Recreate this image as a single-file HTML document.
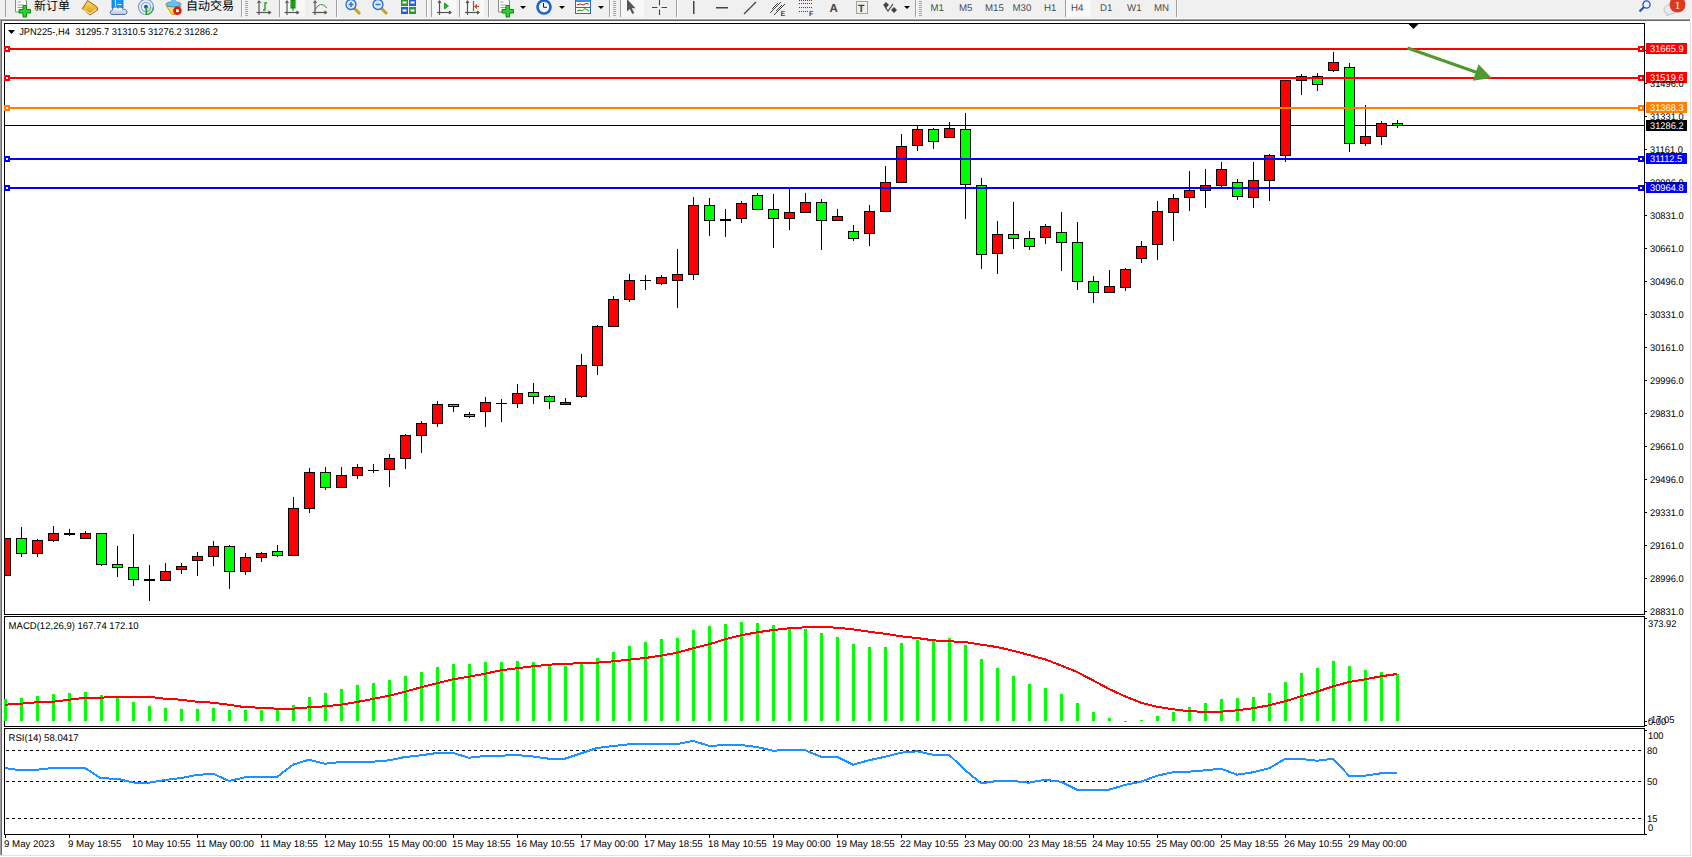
<!DOCTYPE html>
<html><head><meta charset="utf-8"><title>JPN225 H4</title>
<style>
html,body{margin:0;padding:0;background:#fff;overflow:hidden;width:1692px;height:857px}
svg{display:block}
text{white-space:pre;text-rendering:geometricPrecision}
</style></head><body>
<svg width="1692" height="857" viewBox="0 0 1692 857">
<g shape-rendering="crispEdges">
<rect x="0" y="0" width="1692" height="857" fill="#ffffff"/>
<rect x="0" y="0" width="1692" height="18" fill="#f0f0f0"/>
<rect x="0" y="18" width="1690" height="1" fill="#f7f7f7"/>
<rect x="0" y="19" width="1690" height="1" fill="#a0a0a0"/>
<rect x="0" y="20" width="1690" height="1" fill="#696969"/>
<rect x="0" y="19" width="1" height="836" fill="#a0a0a0"/>
<rect x="1" y="20" width="1" height="835" fill="#696969"/>
<rect x="1690" y="21" width="1" height="835" fill="#e3e3e3"/>
<rect x="0" y="855" width="1691" height="1" fill="#e3e3e3"/>
<rect x="4" y="23" width="1641" height="1" fill="#000"/>
<rect x="4" y="614" width="1641" height="1" fill="#000"/>
<rect x="4" y="23" width="1" height="592" fill="#000"/>
<rect x="1644" y="23" width="1" height="592" fill="#000"/>
<rect x="4" y="616" width="1641" height="1" fill="#000"/>
<rect x="4" y="726" width="1641" height="1" fill="#000"/>
<rect x="4" y="616" width="1" height="111" fill="#000"/>
<rect x="1644" y="616" width="1" height="111" fill="#000"/>
<rect x="4" y="728" width="1641" height="1" fill="#000"/>
<rect x="4" y="834" width="1641" height="1" fill="#000"/>
<rect x="4" y="728" width="1" height="107" fill="#000"/>
<rect x="1644" y="728" width="1" height="107" fill="#000"/>
<rect x="5" y="125" width="1639" height="1" fill="#000"/>
<rect x="5" y="538" width="1" height="38" fill="#000"/>
<rect x="21" y="527" width="1" height="30" fill="#000"/>
<rect x="37" y="539" width="1" height="18" fill="#000"/>
<rect x="53" y="526" width="1" height="16" fill="#000"/>
<rect x="69" y="529" width="1" height="7" fill="#000"/>
<rect x="85" y="531" width="1" height="8" fill="#000"/>
<rect x="101" y="533" width="1" height="33" fill="#000"/>
<rect x="117" y="546" width="1" height="31" fill="#000"/>
<rect x="133" y="534" width="1" height="52" fill="#000"/>
<rect x="149" y="565" width="1" height="36" fill="#000"/>
<rect x="165" y="563" width="1" height="18" fill="#000"/>
<rect x="181" y="563" width="1" height="11" fill="#000"/>
<rect x="197" y="552" width="1" height="24" fill="#000"/>
<rect x="213" y="541" width="1" height="25" fill="#000"/>
<rect x="229" y="545" width="1" height="44" fill="#000"/>
<rect x="245" y="553" width="1" height="22" fill="#000"/>
<rect x="261" y="552" width="1" height="10" fill="#000"/>
<rect x="277" y="545" width="1" height="12" fill="#000"/>
<rect x="293" y="497" width="1" height="59" fill="#000"/>
<rect x="309" y="468" width="1" height="45" fill="#000"/>
<rect x="325" y="467" width="1" height="23" fill="#000"/>
<rect x="341" y="467" width="1" height="21" fill="#000"/>
<rect x="357" y="464" width="1" height="15" fill="#000"/>
<rect x="373" y="464" width="1" height="9" fill="#000"/>
<rect x="389" y="454" width="1" height="33" fill="#000"/>
<rect x="405" y="434" width="1" height="35" fill="#000"/>
<rect x="421" y="421" width="1" height="32" fill="#000"/>
<rect x="437" y="401" width="1" height="26" fill="#000"/>
<rect x="453" y="404" width="1" height="8" fill="#000"/>
<rect x="469" y="412" width="1" height="6" fill="#000"/>
<rect x="485" y="397" width="1" height="30" fill="#000"/>
<rect x="501" y="399" width="1" height="23" fill="#000"/>
<rect x="517" y="384" width="1" height="24" fill="#000"/>
<rect x="533" y="383" width="1" height="21" fill="#000"/>
<rect x="549" y="395" width="1" height="14" fill="#000"/>
<rect x="565" y="398" width="1" height="7" fill="#000"/>
<rect x="581" y="354" width="1" height="44" fill="#000"/>
<rect x="597" y="325" width="1" height="50" fill="#000"/>
<rect x="613" y="296" width="1" height="31" fill="#000"/>
<rect x="629" y="274" width="1" height="28" fill="#000"/>
<rect x="645" y="275" width="1" height="15" fill="#000"/>
<rect x="661" y="275" width="1" height="10" fill="#000"/>
<rect x="677" y="249" width="1" height="59" fill="#000"/>
<rect x="693" y="197" width="1" height="83" fill="#000"/>
<rect x="709" y="198" width="1" height="38" fill="#000"/>
<rect x="725" y="209" width="1" height="28" fill="#000"/>
<rect x="741" y="201" width="1" height="22" fill="#000"/>
<rect x="757" y="193" width="1" height="17" fill="#000"/>
<rect x="773" y="194" width="1" height="54" fill="#000"/>
<rect x="789" y="188" width="1" height="42" fill="#000"/>
<rect x="805" y="193" width="1" height="20" fill="#000"/>
<rect x="821" y="199" width="1" height="51" fill="#000"/>
<rect x="837" y="209" width="1" height="12" fill="#000"/>
<rect x="853" y="225" width="1" height="16" fill="#000"/>
<rect x="869" y="205" width="1" height="41" fill="#000"/>
<rect x="885" y="166" width="1" height="46" fill="#000"/>
<rect x="901" y="134" width="1" height="49" fill="#000"/>
<rect x="917" y="125" width="1" height="26" fill="#000"/>
<rect x="933" y="128" width="1" height="21" fill="#000"/>
<rect x="949" y="122" width="1" height="16" fill="#000"/>
<rect x="965" y="113" width="1" height="106" fill="#000"/>
<rect x="981" y="178" width="1" height="91" fill="#000"/>
<rect x="997" y="221" width="1" height="53" fill="#000"/>
<rect x="1013" y="202" width="1" height="47" fill="#000"/>
<rect x="1029" y="231" width="1" height="19" fill="#000"/>
<rect x="1045" y="224" width="1" height="20" fill="#000"/>
<rect x="1061" y="212" width="1" height="59" fill="#000"/>
<rect x="1077" y="222" width="1" height="68" fill="#000"/>
<rect x="1093" y="276" width="1" height="27" fill="#000"/>
<rect x="1109" y="270" width="1" height="23" fill="#000"/>
<rect x="1125" y="268" width="1" height="23" fill="#000"/>
<rect x="1141" y="241" width="1" height="22" fill="#000"/>
<rect x="1157" y="201" width="1" height="59" fill="#000"/>
<rect x="1173" y="194" width="1" height="47" fill="#000"/>
<rect x="1189" y="171" width="1" height="40" fill="#000"/>
<rect x="1205" y="169" width="1" height="39" fill="#000"/>
<rect x="1221" y="162" width="1" height="25" fill="#000"/>
<rect x="1237" y="179" width="1" height="21" fill="#000"/>
<rect x="1253" y="162" width="1" height="46" fill="#000"/>
<rect x="1269" y="154" width="1" height="47" fill="#000"/>
<rect x="1285" y="80" width="1" height="82" fill="#000"/>
<rect x="1301" y="74" width="1" height="21" fill="#000"/>
<rect x="1317" y="73" width="1" height="18" fill="#000"/>
<rect x="1333" y="52" width="1" height="20" fill="#000"/>
<rect x="1349" y="63" width="1" height="89" fill="#000"/>
<rect x="1365" y="105" width="1" height="41" fill="#000"/>
<rect x="1381" y="121" width="1" height="24" fill="#000"/>
<rect x="1397" y="120" width="1" height="8" fill="#000"/>
<rect x="5" y="538" width="6" height="38" fill="#000"/>
<rect x="5" y="539" width="5" height="36" fill="#ff0000"/>
<rect x="16" y="538" width="11" height="16" fill="#000"/>
<rect x="17" y="539" width="9" height="14" fill="#00ff00"/>
<rect x="32" y="540" width="11" height="14" fill="#000"/>
<rect x="33" y="541" width="9" height="12" fill="#ff0000"/>
<rect x="48" y="533" width="11" height="8" fill="#000"/>
<rect x="49" y="534" width="9" height="6" fill="#ff0000"/>
<rect x="64" y="533" width="11" height="2" fill="#000"/>
<rect x="80" y="533" width="11" height="6" fill="#000"/>
<rect x="81" y="534" width="9" height="4" fill="#ff0000"/>
<rect x="96" y="533" width="11" height="32" fill="#000"/>
<rect x="97" y="534" width="9" height="30" fill="#00ff00"/>
<rect x="112" y="564" width="11" height="4" fill="#000"/>
<rect x="113" y="565" width="9" height="2" fill="#00ff00"/>
<rect x="128" y="567" width="11" height="13" fill="#000"/>
<rect x="129" y="568" width="9" height="11" fill="#00ff00"/>
<rect x="144" y="579" width="11" height="2" fill="#000"/>
<rect x="160" y="571" width="11" height="10" fill="#000"/>
<rect x="161" y="572" width="9" height="8" fill="#ff0000"/>
<rect x="176" y="566" width="11" height="4" fill="#000"/>
<rect x="177" y="567" width="9" height="2" fill="#ff0000"/>
<rect x="192" y="556" width="11" height="5" fill="#000"/>
<rect x="193" y="557" width="9" height="3" fill="#ff0000"/>
<rect x="208" y="546" width="11" height="11" fill="#000"/>
<rect x="209" y="547" width="9" height="9" fill="#ff0000"/>
<rect x="224" y="546" width="11" height="26" fill="#000"/>
<rect x="225" y="547" width="9" height="24" fill="#00ff00"/>
<rect x="240" y="557" width="11" height="15" fill="#000"/>
<rect x="241" y="558" width="9" height="13" fill="#ff0000"/>
<rect x="256" y="553" width="11" height="5" fill="#000"/>
<rect x="257" y="554" width="9" height="3" fill="#ff0000"/>
<rect x="272" y="551" width="11" height="5" fill="#000"/>
<rect x="273" y="552" width="9" height="3" fill="#00ff00"/>
<rect x="288" y="508" width="11" height="48" fill="#000"/>
<rect x="289" y="509" width="9" height="46" fill="#ff0000"/>
<rect x="304" y="472" width="11" height="37" fill="#000"/>
<rect x="305" y="473" width="9" height="35" fill="#ff0000"/>
<rect x="320" y="472" width="11" height="16" fill="#000"/>
<rect x="321" y="473" width="9" height="14" fill="#00ff00"/>
<rect x="336" y="475" width="11" height="13" fill="#000"/>
<rect x="337" y="476" width="9" height="11" fill="#ff0000"/>
<rect x="352" y="467" width="11" height="9" fill="#000"/>
<rect x="353" y="468" width="9" height="7" fill="#ff0000"/>
<rect x="368" y="470" width="11" height="1" fill="#000"/>
<rect x="384" y="458" width="11" height="12" fill="#000"/>
<rect x="385" y="459" width="9" height="10" fill="#ff0000"/>
<rect x="400" y="435" width="11" height="24" fill="#000"/>
<rect x="401" y="436" width="9" height="22" fill="#ff0000"/>
<rect x="416" y="423" width="11" height="13" fill="#000"/>
<rect x="417" y="424" width="9" height="11" fill="#ff0000"/>
<rect x="432" y="404" width="11" height="20" fill="#000"/>
<rect x="433" y="405" width="9" height="18" fill="#ff0000"/>
<rect x="448" y="404" width="11" height="3" fill="#000"/>
<rect x="449" y="405" width="9" height="1" fill="#00ff00"/>
<rect x="464" y="414" width="11" height="3" fill="#000"/>
<rect x="465" y="415" width="9" height="1" fill="#00ff00"/>
<rect x="480" y="402" width="11" height="10" fill="#000"/>
<rect x="481" y="403" width="9" height="8" fill="#ff0000"/>
<rect x="496" y="403" width="11" height="1" fill="#000"/>
<rect x="512" y="393" width="11" height="11" fill="#000"/>
<rect x="513" y="394" width="9" height="9" fill="#ff0000"/>
<rect x="528" y="392" width="11" height="5" fill="#000"/>
<rect x="529" y="393" width="9" height="3" fill="#00ff00"/>
<rect x="544" y="396" width="11" height="6" fill="#000"/>
<rect x="545" y="397" width="9" height="4" fill="#00ff00"/>
<rect x="560" y="402" width="11" height="3" fill="#000"/>
<rect x="561" y="403" width="9" height="1" fill="#ff0000"/>
<rect x="576" y="365" width="11" height="32" fill="#000"/>
<rect x="577" y="366" width="9" height="30" fill="#ff0000"/>
<rect x="592" y="326" width="11" height="40" fill="#000"/>
<rect x="593" y="327" width="9" height="38" fill="#ff0000"/>
<rect x="608" y="299" width="11" height="28" fill="#000"/>
<rect x="609" y="300" width="9" height="26" fill="#ff0000"/>
<rect x="624" y="280" width="11" height="20" fill="#000"/>
<rect x="625" y="281" width="9" height="18" fill="#ff0000"/>
<rect x="640" y="280" width="11" height="1" fill="#000"/>
<rect x="656" y="277" width="11" height="7" fill="#000"/>
<rect x="657" y="278" width="9" height="5" fill="#ff0000"/>
<rect x="672" y="274" width="11" height="7" fill="#000"/>
<rect x="673" y="275" width="9" height="5" fill="#ff0000"/>
<rect x="688" y="205" width="11" height="70" fill="#000"/>
<rect x="689" y="206" width="9" height="68" fill="#ff0000"/>
<rect x="704" y="205" width="11" height="16" fill="#000"/>
<rect x="705" y="206" width="9" height="14" fill="#00ff00"/>
<rect x="720" y="219" width="11" height="2" fill="#000"/>
<rect x="736" y="203" width="11" height="16" fill="#000"/>
<rect x="737" y="204" width="9" height="14" fill="#ff0000"/>
<rect x="752" y="195" width="11" height="15" fill="#000"/>
<rect x="753" y="196" width="9" height="13" fill="#00ff00"/>
<rect x="768" y="209" width="11" height="10" fill="#000"/>
<rect x="769" y="210" width="9" height="8" fill="#00ff00"/>
<rect x="784" y="212" width="11" height="7" fill="#000"/>
<rect x="785" y="213" width="9" height="5" fill="#ff0000"/>
<rect x="800" y="202" width="11" height="11" fill="#000"/>
<rect x="801" y="203" width="9" height="9" fill="#ff0000"/>
<rect x="816" y="202" width="11" height="19" fill="#000"/>
<rect x="817" y="203" width="9" height="17" fill="#00ff00"/>
<rect x="832" y="216" width="11" height="5" fill="#000"/>
<rect x="833" y="217" width="9" height="3" fill="#ff0000"/>
<rect x="848" y="231" width="11" height="8" fill="#000"/>
<rect x="849" y="232" width="9" height="6" fill="#00ff00"/>
<rect x="864" y="211" width="11" height="23" fill="#000"/>
<rect x="865" y="212" width="9" height="21" fill="#ff0000"/>
<rect x="880" y="182" width="11" height="30" fill="#000"/>
<rect x="881" y="183" width="9" height="28" fill="#ff0000"/>
<rect x="896" y="146" width="11" height="37" fill="#000"/>
<rect x="897" y="147" width="9" height="35" fill="#ff0000"/>
<rect x="912" y="129" width="11" height="17" fill="#000"/>
<rect x="913" y="130" width="9" height="15" fill="#ff0000"/>
<rect x="928" y="129" width="11" height="13" fill="#000"/>
<rect x="929" y="130" width="9" height="11" fill="#00ff00"/>
<rect x="944" y="128" width="11" height="10" fill="#000"/>
<rect x="945" y="129" width="9" height="8" fill="#ff0000"/>
<rect x="960" y="129" width="11" height="56" fill="#000"/>
<rect x="961" y="130" width="9" height="54" fill="#00ff00"/>
<rect x="976" y="185" width="11" height="70" fill="#000"/>
<rect x="977" y="186" width="9" height="68" fill="#00ff00"/>
<rect x="992" y="234" width="11" height="20" fill="#000"/>
<rect x="993" y="235" width="9" height="18" fill="#ff0000"/>
<rect x="1008" y="234" width="11" height="5" fill="#000"/>
<rect x="1009" y="235" width="9" height="3" fill="#00ff00"/>
<rect x="1024" y="238" width="11" height="9" fill="#000"/>
<rect x="1025" y="239" width="9" height="7" fill="#00ff00"/>
<rect x="1040" y="226" width="11" height="12" fill="#000"/>
<rect x="1041" y="227" width="9" height="10" fill="#ff0000"/>
<rect x="1056" y="232" width="11" height="11" fill="#000"/>
<rect x="1057" y="233" width="9" height="9" fill="#00ff00"/>
<rect x="1072" y="242" width="11" height="40" fill="#000"/>
<rect x="1073" y="243" width="9" height="38" fill="#00ff00"/>
<rect x="1088" y="281" width="11" height="12" fill="#000"/>
<rect x="1089" y="282" width="9" height="10" fill="#00ff00"/>
<rect x="1104" y="286" width="11" height="7" fill="#000"/>
<rect x="1105" y="287" width="9" height="5" fill="#ff0000"/>
<rect x="1120" y="269" width="11" height="19" fill="#000"/>
<rect x="1121" y="270" width="9" height="17" fill="#ff0000"/>
<rect x="1136" y="246" width="11" height="13" fill="#000"/>
<rect x="1137" y="247" width="9" height="11" fill="#ff0000"/>
<rect x="1152" y="211" width="11" height="34" fill="#000"/>
<rect x="1153" y="212" width="9" height="32" fill="#ff0000"/>
<rect x="1168" y="198" width="11" height="15" fill="#000"/>
<rect x="1169" y="199" width="9" height="13" fill="#ff0000"/>
<rect x="1184" y="190" width="11" height="8" fill="#000"/>
<rect x="1185" y="191" width="9" height="6" fill="#ff0000"/>
<rect x="1200" y="185" width="11" height="6" fill="#000"/>
<rect x="1201" y="186" width="9" height="4" fill="#ff0000"/>
<rect x="1216" y="169" width="11" height="17" fill="#000"/>
<rect x="1217" y="170" width="9" height="15" fill="#ff0000"/>
<rect x="1232" y="182" width="11" height="15" fill="#000"/>
<rect x="1233" y="183" width="9" height="13" fill="#00ff00"/>
<rect x="1248" y="180" width="11" height="18" fill="#000"/>
<rect x="1249" y="181" width="9" height="16" fill="#ff0000"/>
<rect x="1264" y="155" width="11" height="26" fill="#000"/>
<rect x="1265" y="156" width="9" height="24" fill="#ff0000"/>
<rect x="1280" y="80" width="11" height="76" fill="#000"/>
<rect x="1281" y="81" width="9" height="74" fill="#ff0000"/>
<rect x="1296" y="76" width="11" height="5" fill="#000"/>
<rect x="1297" y="77" width="9" height="3" fill="#ff0000"/>
<rect x="1312" y="76" width="11" height="9" fill="#000"/>
<rect x="1313" y="77" width="9" height="7" fill="#00ff00"/>
<rect x="1328" y="62" width="11" height="9" fill="#000"/>
<rect x="1329" y="63" width="9" height="7" fill="#ff0000"/>
<rect x="1344" y="67" width="11" height="77" fill="#000"/>
<rect x="1345" y="68" width="9" height="75" fill="#00ff00"/>
<rect x="1360" y="136" width="11" height="8" fill="#000"/>
<rect x="1361" y="137" width="9" height="6" fill="#ff0000"/>
<rect x="1376" y="123" width="11" height="14" fill="#000"/>
<rect x="1377" y="124" width="9" height="12" fill="#ff0000"/>
<rect x="1392" y="123" width="11" height="3" fill="#000"/>
<rect x="1393" y="124" width="9" height="1" fill="#00ff00"/>
<rect x="5" y="48" width="1639" height="2" fill="#ff0000"/>
<rect x="4" y="46" width="6" height="6" fill="#ff0000"/>
<rect x="6" y="48" width="2" height="2" fill="#fff"/>
<rect x="1638" y="46" width="6" height="6" fill="#ff0000"/>
<rect x="1640" y="48" width="2" height="2" fill="#fff"/>
<rect x="5" y="77" width="1639" height="2" fill="#ff0000"/>
<rect x="4" y="75" width="6" height="6" fill="#ff0000"/>
<rect x="6" y="77" width="2" height="2" fill="#fff"/>
<rect x="1638" y="75" width="6" height="6" fill="#ff0000"/>
<rect x="1640" y="77" width="2" height="2" fill="#fff"/>
<rect x="5" y="107" width="1639" height="2" fill="#ff8000"/>
<rect x="4" y="105" width="6" height="6" fill="#ff8000"/>
<rect x="6" y="107" width="2" height="2" fill="#fff"/>
<rect x="1638" y="105" width="6" height="6" fill="#ff8000"/>
<rect x="1640" y="107" width="2" height="2" fill="#fff"/>
<rect x="5" y="158" width="1639" height="2" fill="#0000ff"/>
<rect x="4" y="156" width="6" height="6" fill="#0000ff"/>
<rect x="6" y="158" width="2" height="2" fill="#fff"/>
<rect x="1638" y="156" width="6" height="6" fill="#0000ff"/>
<rect x="1640" y="158" width="2" height="2" fill="#fff"/>
<rect x="5" y="187" width="1639" height="2" fill="#0000ff"/>
<rect x="4" y="185" width="6" height="6" fill="#0000ff"/>
<rect x="6" y="187" width="2" height="2" fill="#fff"/>
<rect x="1638" y="185" width="6" height="6" fill="#0000ff"/>
<rect x="1640" y="187" width="2" height="2" fill="#fff"/>
<g shape-rendering="geometricPrecision"><line x1="1407.5" y1="48" x2="1477" y2="72.5" stroke="#4f9a2e" stroke-width="3"/><polygon points="1478.6,64.2 1491.7,78.1 1472.8,80.8" fill="#4f9a2e"/></g>
<polygon points="1408.5,24 1418.5,24 1413.5,29" fill="#000" shape-rendering="geometricPrecision"/>
<rect x="4" y="699" width="3" height="22" fill="#00ff00"/>
<rect x="20" y="698" width="3" height="23" fill="#00ff00"/>
<rect x="36" y="696" width="3" height="25" fill="#00ff00"/>
<rect x="52" y="694" width="3" height="27" fill="#00ff00"/>
<rect x="68" y="693" width="3" height="28" fill="#00ff00"/>
<rect x="84" y="692" width="3" height="29" fill="#00ff00"/>
<rect x="100" y="695" width="3" height="26" fill="#00ff00"/>
<rect x="116" y="697" width="3" height="24" fill="#00ff00"/>
<rect x="132" y="702" width="3" height="19" fill="#00ff00"/>
<rect x="148" y="706" width="3" height="15" fill="#00ff00"/>
<rect x="164" y="708" width="3" height="13" fill="#00ff00"/>
<rect x="180" y="709" width="3" height="12" fill="#00ff00"/>
<rect x="196" y="709" width="3" height="12" fill="#00ff00"/>
<rect x="212" y="708" width="3" height="13" fill="#00ff00"/>
<rect x="228" y="710" width="3" height="11" fill="#00ff00"/>
<rect x="244" y="710" width="3" height="11" fill="#00ff00"/>
<rect x="260" y="710" width="3" height="11" fill="#00ff00"/>
<rect x="276" y="710" width="3" height="11" fill="#00ff00"/>
<rect x="292" y="705" width="3" height="16" fill="#00ff00"/>
<rect x="308" y="697" width="3" height="24" fill="#00ff00"/>
<rect x="324" y="693" width="3" height="28" fill="#00ff00"/>
<rect x="340" y="689" width="3" height="32" fill="#00ff00"/>
<rect x="356" y="685" width="3" height="36" fill="#00ff00"/>
<rect x="372" y="683" width="3" height="38" fill="#00ff00"/>
<rect x="388" y="680" width="3" height="41" fill="#00ff00"/>
<rect x="404" y="676" width="3" height="45" fill="#00ff00"/>
<rect x="420" y="672" width="3" height="49" fill="#00ff00"/>
<rect x="436" y="667" width="3" height="54" fill="#00ff00"/>
<rect x="452" y="664" width="3" height="57" fill="#00ff00"/>
<rect x="468" y="664" width="3" height="57" fill="#00ff00"/>
<rect x="484" y="662" width="3" height="59" fill="#00ff00"/>
<rect x="500" y="662" width="3" height="59" fill="#00ff00"/>
<rect x="516" y="661" width="3" height="60" fill="#00ff00"/>
<rect x="532" y="662" width="3" height="59" fill="#00ff00"/>
<rect x="548" y="665" width="3" height="56" fill="#00ff00"/>
<rect x="564" y="666" width="3" height="55" fill="#00ff00"/>
<rect x="580" y="663" width="3" height="58" fill="#00ff00"/>
<rect x="596" y="658" width="3" height="63" fill="#00ff00"/>
<rect x="612" y="652" width="3" height="69" fill="#00ff00"/>
<rect x="628" y="646" width="3" height="75" fill="#00ff00"/>
<rect x="644" y="642" width="3" height="79" fill="#00ff00"/>
<rect x="660" y="639" width="3" height="82" fill="#00ff00"/>
<rect x="676" y="638" width="3" height="83" fill="#00ff00"/>
<rect x="692" y="630" width="3" height="91" fill="#00ff00"/>
<rect x="708" y="626" width="3" height="95" fill="#00ff00"/>
<rect x="724" y="624" width="3" height="97" fill="#00ff00"/>
<rect x="740" y="622" width="3" height="99" fill="#00ff00"/>
<rect x="756" y="623" width="3" height="98" fill="#00ff00"/>
<rect x="772" y="625" width="3" height="96" fill="#00ff00"/>
<rect x="788" y="627" width="3" height="94" fill="#00ff00"/>
<rect x="804" y="629" width="3" height="92" fill="#00ff00"/>
<rect x="820" y="633" width="3" height="88" fill="#00ff00"/>
<rect x="836" y="637" width="3" height="84" fill="#00ff00"/>
<rect x="852" y="644" width="3" height="77" fill="#00ff00"/>
<rect x="868" y="647" width="3" height="74" fill="#00ff00"/>
<rect x="884" y="647" width="3" height="74" fill="#00ff00"/>
<rect x="900" y="643" width="3" height="78" fill="#00ff00"/>
<rect x="916" y="640" width="3" height="81" fill="#00ff00"/>
<rect x="932" y="639" width="3" height="82" fill="#00ff00"/>
<rect x="948" y="638" width="3" height="83" fill="#00ff00"/>
<rect x="964" y="645" width="3" height="76" fill="#00ff00"/>
<rect x="980" y="659" width="3" height="62" fill="#00ff00"/>
<rect x="996" y="668" width="3" height="53" fill="#00ff00"/>
<rect x="1012" y="676" width="3" height="45" fill="#00ff00"/>
<rect x="1028" y="684" width="3" height="37" fill="#00ff00"/>
<rect x="1044" y="688" width="3" height="33" fill="#00ff00"/>
<rect x="1060" y="694" width="3" height="27" fill="#00ff00"/>
<rect x="1076" y="703" width="3" height="18" fill="#00ff00"/>
<rect x="1092" y="712" width="3" height="9" fill="#00ff00"/>
<rect x="1108" y="718" width="3" height="3" fill="#00ff00"/>
<rect x="1124" y="721" width="3" height="1" fill="#00ff00"/>
<rect x="1140" y="720" width="3" height="1" fill="#00ff00"/>
<rect x="1156" y="716" width="3" height="5" fill="#00ff00"/>
<rect x="1172" y="712" width="3" height="9" fill="#00ff00"/>
<rect x="1188" y="707" width="3" height="14" fill="#00ff00"/>
<rect x="1204" y="703" width="3" height="18" fill="#00ff00"/>
<rect x="1220" y="699" width="3" height="22" fill="#00ff00"/>
<rect x="1236" y="698" width="3" height="23" fill="#00ff00"/>
<rect x="1252" y="697" width="3" height="24" fill="#00ff00"/>
<rect x="1268" y="693" width="3" height="28" fill="#00ff00"/>
<rect x="1284" y="682" width="3" height="39" fill="#00ff00"/>
<rect x="1300" y="673" width="3" height="48" fill="#00ff00"/>
<rect x="1316" y="668" width="3" height="53" fill="#00ff00"/>
<rect x="1332" y="661" width="3" height="60" fill="#00ff00"/>
<rect x="1348" y="666" width="3" height="55" fill="#00ff00"/>
<rect x="1364" y="670" width="3" height="51" fill="#00ff00"/>
<rect x="1380" y="672" width="3" height="49" fill="#00ff00"/>
<rect x="1396" y="674" width="3" height="47" fill="#00ff00"/>
<polyline points="5,704.7 21,703.7 37,702.2 53,701.7 69,699.7 85,697.7 101,697.7 117,696.7 133,696.7 149,696.7 165,698.7 181,699.7 197,701.7 213,702.7 229,704.7 245,707.2 261,707.7 277,708.7 293,708.7 309,707.3 325,706.3 341,704.7 357,702.0 373,699.0 389,695.7 405,691.7 421,687.3 437,683.3 453,679.3 469,676.7 485,673.7 501,670.3 517,668.3 533,666.3 549,664.7 565,663.7 581,663.3 597,662.7 613,661.3 629,659.7 645,658.0 661,655.7 677,652.7 693,648.3 709,644.3 725,639.3 741,635.3 757,632.3 773,630.0 789,628.3 805,627.3 821,627.0 837,627.7 853,629.3 869,631.7 885,633.7 901,636.3 917,638.0 933,640.3 949,641.3 965,642.0 981,644.7 997,647.0 1013,650.7 1029,655.0 1045,659.3 1061,665.5 1077,672.0 1093,680.3 1109,689.0 1125,696.3 1141,702.7 1157,706.7 1173,709.3 1189,711.3 1205,711.7 1221,711.7 1237,710.3 1253,708.3 1269,705.3 1285,701.3 1301,696.3 1317,691.7 1333,686.3 1349,682.0 1365,679.3 1381,676.3 1397,674.0" fill="none" stroke="#ff0000" stroke-width="2" stroke-linejoin="round"/>
<line x1="6" y1="750.5" x2="1642" y2="750.5" stroke="#000" stroke-width="1" stroke-dasharray="3 3"/>
<line x1="6" y1="781.5" x2="1642" y2="781.5" stroke="#000" stroke-width="1" stroke-dasharray="3 3"/>
<line x1="6" y1="818.5" x2="1642" y2="818.5" stroke="#000" stroke-width="1" stroke-dasharray="3 3"/>
<polyline points="5,768.0 21,770.5 37,769.7 53,768.0 69,768.0 85,768.0 101,778.3 117,778.7 133,782.5 149,782.7 165,780.0 181,778.0 197,775.0 213,773.7 229,781.0 245,777.3 261,777.0 277,777.0 293,764.7 309,759.7 325,763.7 341,762.0 357,761.7 373,761.7 389,760.3 405,757.0 421,755.3 437,753.0 453,753.0 469,757.7 485,756.0 501,755.7 517,755.0 533,756.5 549,758.7 565,758.7 581,753.3 597,748.0 613,746.0 629,744.3 645,744.0 661,744.0 677,744.0 693,741.0 709,745.7 725,745.3 741,745.0 757,747.0 773,750.7 789,750.0 805,750.2 821,756.7 837,756.7 853,764.7 869,760.3 885,756.7 901,752.7 917,751.3 933,754.7 949,754.7 965,770.0 981,783.3 997,781.0 1013,781.0 1029,782.7 1045,779.7 1061,781.8 1077,789.7 1093,789.7 1109,789.7 1125,785.0 1141,781.7 1157,775.7 1173,772.3 1189,771.7 1205,770.3 1221,768.7 1237,774.7 1253,772.3 1269,768.3 1285,759.0 1301,759.0 1317,760.7 1333,758.8 1349,775.7 1365,775.7 1381,773.3 1397,772.7" fill="none" stroke="#1e90ff" stroke-width="2" stroke-linejoin="round"/>
<rect x="1645" y="50" width="2" height="1" fill="#000"/>
<rect x="1645" y="83" width="2" height="1" fill="#000"/>
<rect x="1645" y="116" width="2" height="1" fill="#000"/>
<rect x="1645" y="149" width="2" height="1" fill="#000"/>
<rect x="1645" y="182" width="2" height="1" fill="#000"/>
<rect x="1645" y="215" width="2" height="1" fill="#000"/>
<rect x="1645" y="248" width="2" height="1" fill="#000"/>
<rect x="1645" y="281" width="2" height="1" fill="#000"/>
<rect x="1645" y="314" width="2" height="1" fill="#000"/>
<rect x="1645" y="347" width="2" height="1" fill="#000"/>
<rect x="1645" y="380" width="2" height="1" fill="#000"/>
<rect x="1645" y="413" width="2" height="1" fill="#000"/>
<rect x="1645" y="446" width="2" height="1" fill="#000"/>
<rect x="1645" y="479" width="2" height="1" fill="#000"/>
<rect x="1645" y="512" width="2" height="1" fill="#000"/>
<rect x="1645" y="545" width="2" height="1" fill="#000"/>
<rect x="1645" y="578" width="2" height="1" fill="#000"/>
<rect x="1645" y="611" width="2" height="1" fill="#000"/>
<rect x="1646" y="43" width="41" height="11" fill="#ff0000"/>
<rect x="1646" y="72" width="41" height="11" fill="#ff0000"/>
<rect x="1646" y="102" width="41" height="11" fill="#ff8000"/>
<rect x="1646" y="120" width="41" height="11" fill="#000000"/>
<rect x="1646" y="153" width="41" height="11" fill="#0000ff"/>
<rect x="1646" y="182" width="41" height="11" fill="#0000ff"/>
<rect x="1645" y="618" width="2" height="1" fill="#000"/>
<rect x="1645" y="721" width="2" height="1" fill="#000"/>
<rect x="1645" y="725" width="2" height="1" fill="#000"/>
<rect x="1645" y="730" width="2" height="1" fill="#000"/>
<rect x="1645" y="834" width="2" height="1" fill="#000"/>
<polygon points="8,30 15,30 11.5,34" fill="#000" shape-rendering="geometricPrecision"/>
<rect x="5" y="835" width="1" height="3" fill="#000"/>
<rect x="69" y="835" width="1" height="3" fill="#000"/>
<rect x="133" y="835" width="1" height="3" fill="#000"/>
<rect x="197" y="835" width="1" height="3" fill="#000"/>
<rect x="261" y="835" width="1" height="3" fill="#000"/>
<rect x="325" y="835" width="1" height="3" fill="#000"/>
<rect x="389" y="835" width="1" height="3" fill="#000"/>
<rect x="453" y="835" width="1" height="3" fill="#000"/>
<rect x="517" y="835" width="1" height="3" fill="#000"/>
<rect x="581" y="835" width="1" height="3" fill="#000"/>
<rect x="645" y="835" width="1" height="3" fill="#000"/>
<rect x="709" y="835" width="1" height="3" fill="#000"/>
<rect x="773" y="835" width="1" height="3" fill="#000"/>
<rect x="837" y="835" width="1" height="3" fill="#000"/>
<rect x="901" y="835" width="1" height="3" fill="#000"/>
<rect x="965" y="835" width="1" height="3" fill="#000"/>
<rect x="1029" y="835" width="1" height="3" fill="#000"/>
<rect x="1093" y="835" width="1" height="3" fill="#000"/>
<rect x="1157" y="835" width="1" height="3" fill="#000"/>
<rect x="1221" y="835" width="1" height="3" fill="#000"/>
<rect x="1285" y="835" width="1" height="3" fill="#000"/>
<rect x="1349" y="835" width="1" height="3" fill="#000"/>
</g>
<g>
<rect x="5" y="0" width="1" height="17" fill="#a0a0a0"/>
<path d="M15.5 -2 H23.5 L26.5 1 V12 H15.5 Z" fill="#fff" stroke="#8a8a8a" stroke-width="1"/>
<path d="M17.5 2 H20.5 M17.5 5 H23.5 M17.5 7.5 H23.5" stroke="#9a9a9a" stroke-width="1"/>
<path d="M23.0 5.5 h3.5 v4 h4 v3.5 h-4 v4 h-3.5 v-4 h-4 v-3.5 h4 Z" fill="#30d030" stroke="#0b8f0b" stroke-width="1"/>
<text x="34" y="10" font-size="12" font-family='"Liberation Sans", "Noto Sans CJK SC", "WenQuanYi Zen Hei", sans-serif' fill="#000">新订单</text>
<defs><linearGradient id="gld" x1="0" y1="0" x2="0" y2="1"><stop offset="0" stop-color="#ffe060"/><stop offset="1" stop-color="#d09810"/></linearGradient></defs>
<path d="M87.5 0.5 L96.5 6.5 L98 9.5 L90 15 L82.3 8.7 L86.2 3 Z" fill="url(#gld)" stroke="#9a5a08" stroke-width="1"/><path d="M83.5 9.5 L90 13.8 L96.5 9.2" fill="none" stroke="#f4e0a0" stroke-width="1.2"/>
<rect x="112" y="-1" width="11" height="9" fill="#1898ee" stroke="#0a70c8" stroke-width="0.8"/><path d="M115.5 -1 V8" stroke="#e8f6ff" stroke-width="0.8"/><path d="M117.5 4.5 h4" stroke="#e8f6ff" stroke-width="1"/>
<defs><linearGradient id="cld" x1="0" y1="0" x2="0" y2="1"><stop offset="0" stop-color="#ffffff"/><stop offset="1" stop-color="#b8c4d8"/></linearGradient></defs>
<path d="M111.2 14.5 A2.4 2.4 0 0 1 112.3 10.3 A3.2 3.2 0 0 1 118 8.2 A2.8 2.8 0 0 1 123 9.6 A2.6 2.6 0 0 1 125.5 14.5 Z" fill="url(#cld)" stroke="#4a66a0" stroke-width="0.9"/>
<path d="M146 7 L146 15 A8 8 0 0 0 154 7 Z" fill="#c8e8c0"/><g fill="none" stroke-width="1.2"><circle cx="146" cy="7" r="7.5" stroke="#5a88d0" stroke-opacity="0.8"/><circle cx="146" cy="7" r="4.6" stroke="#5a88d0" stroke-opacity="0.7"/></g><path d="M146 14.5 A7.5 7.5 0 0 0 153.5 7" fill="none" stroke="#3aa040" stroke-width="1.2"/><circle cx="146" cy="6.8" r="2" fill="#2050c8"/><path d="M146.3 7 V15" stroke="#1a9a1a" stroke-width="1.4"/>
<path d="M166.5 6.5 L181 6.5 L175 14.5 L172 14.5 Z" fill="#f4dc50" stroke="#c09010" stroke-width="0.8"/><ellipse cx="173.5" cy="4.3" rx="7.6" ry="2.6" fill="#6ac0f0" stroke="#2a88c0" stroke-width="0.8"/><path d="M170 4.5 L171.5 -1 L175.5 -1 L177 4.5 Z" fill="#6ac0f0"/><circle cx="177.4" cy="10.7" r="4.3" fill="#d82010"/><rect x="176" y="9.3" width="2.8" height="2.8" fill="#fff"/>
<text x="186" y="10" font-size="12" font-family='"Liberation Sans", "Noto Sans CJK SC", "WenQuanYi Zen Hei", sans-serif' fill="#000">自动交易</text>
<rect x="241" y="0" width="1" height="17" fill="#a0a0a0"/><rect x="242" y="0" width="1" height="17" fill="#ffffff"/>
<rect x="245" y="1" width="3" height="1" fill="#a8a8a8"/>
<rect x="245" y="3" width="3" height="1" fill="#a8a8a8"/>
<rect x="245" y="5" width="3" height="1" fill="#a8a8a8"/>
<rect x="245" y="7" width="3" height="1" fill="#a8a8a8"/>
<rect x="245" y="9" width="3" height="1" fill="#a8a8a8"/>
<rect x="245" y="11" width="3" height="1" fill="#a8a8a8"/>
<rect x="245" y="13" width="3" height="1" fill="#a8a8a8"/>
<rect x="245" y="15" width="3" height="1" fill="#a8a8a8"/>
<g stroke="#555" stroke-width="1.2" fill="none"><path d="M259.0 1 V15"/><path d="M256.5 12.5 H270.5"/><path d="M257.5 3 L259.0 1 L260.5 3"/><path d="M268.5 11 L270.5 12.5 L268.5 14"/></g>
<path d="M263 10 H265 V3 H267" fill="none" stroke="#1a9a1a" stroke-width="1.3"/>
<rect x="279" y="0" width="26" height="17" fill="#f8f8f8"/>
<rect x="279" y="0" width="1" height="17" fill="#a0a0a0"/>
<g stroke="#555" stroke-width="1.2" fill="none"><path d="M287.0 1 V15"/><path d="M284.5 12.5 H298.5"/><path d="M285.5 3 L287.0 1 L288.5 3"/><path d="M296.5 11 L298.5 12.5 L296.5 14"/></g>
<rect x="291" y="0" width="4" height="8" fill="#22cc22" stroke="#0b7a0b" stroke-width="1"/><path d="M293 -2 V11" stroke="#0b7a0b" stroke-width="1"/>
<g stroke="#555" stroke-width="1.2" fill="none"><path d="M315.0 1 V15"/><path d="M312.5 12.5 H326.5"/><path d="M313.5 3 L315.0 1 L316.5 3"/><path d="M324.5 11 L326.5 12.5 L324.5 14"/></g>
<path d="M315 10 Q320 0 327 8" fill="none" stroke="#2a9a2a" stroke-width="1"/>
<rect x="336" y="0" width="1" height="17" fill="#a0a0a0"/><rect x="337" y="0" width="1" height="17" fill="#ffffff"/>
<path d="M354 8 L360 14" stroke="#c8a020" stroke-width="3"/>
<circle cx="351" cy="4.5" r="5" fill="#d8ecff" stroke="#2a6cc8" stroke-width="1.3"/>
<path d="M348.5 4.5 H353.5" stroke="#3a7ab8" stroke-width="1.6"/>
<path d="M351 2 V7" stroke="#3a7ab8" stroke-width="1.6"/>
<path d="M381 8 L387 14" stroke="#c8a020" stroke-width="3"/>
<circle cx="378" cy="4.5" r="5" fill="#d8ecff" stroke="#2a6cc8" stroke-width="1.3"/>
<path d="M375.5 4.5 H380.5" stroke="#3a7ab8" stroke-width="1.6"/>
<rect x="401" y="-1" width="7" height="7" fill="#2a9a2a"/><rect x="409" y="-1" width="7" height="7" fill="#2a5ad8"/><rect x="401" y="7" width="7" height="7" fill="#2a5ad8"/><rect x="409" y="7" width="7" height="7" fill="#2a9a2a"/><path d="M402.5 2.5 h4 M410.5 2.5 h4 M402.5 10.5 h4 M410.5 10.5 h4" stroke="#fff" stroke-width="2"/>
<rect x="426" y="0" width="1" height="17" fill="#a0a0a0"/><rect x="427" y="0" width="1" height="17" fill="#ffffff"/>
<rect x="431" y="0" width="25" height="17" fill="#f8f8f8"/>
<rect x="431" y="0" width="1" height="17" fill="#a0a0a0"/>
<g stroke="#555" stroke-width="1.2" fill="none"><path d="M439.5 1 V15"/><path d="M437 12.5 H451"/><path d="M438 3 L439.5 1 L441 3"/><path d="M449 11 L451 12.5 L449 14"/></g>
<path d="M444.5 3 L448.5 6 L444.5 9 Z" fill="#2aba2a" stroke="#0a8a0a" stroke-width="0.8"/>
<rect x="459" y="0" width="25" height="17" fill="#f8f8f8"/>
<rect x="459" y="0" width="1" height="17" fill="#a0a0a0"/>
<g stroke="#555" stroke-width="1.2" fill="none"><path d="M467.5 1 V15"/><path d="M465 12.5 H479"/><path d="M466 3 L467.5 1 L469 3"/><path d="M477 11 L479 12.5 L477 14"/></g>
<path d="M473.5 1 V11" stroke="#2070b0" stroke-width="1.2"/><path d="M479 6.5 H475 M477 4.5 L475 6.5 L477 8.5" fill="none" stroke="#e04010" stroke-width="1.2"/>
<rect x="488" y="0" width="1" height="17" fill="#a0a0a0"/><rect x="489" y="0" width="1" height="17" fill="#ffffff"/>
<path d="M498.5 -2 H506.5 L509.5 1 V12 H498.5 Z" fill="#fff" stroke="#8a8a8a" stroke-width="1"/>
<path d="M500.5 2 H503.5 M500.5 5 H506.5 M500.5 7.5 H506.5" stroke="#9a9a9a" stroke-width="1"/>
<path d="M506.0 5.5 h3.5 v4 h4 v3.5 h-4 v4 h-3.5 v-4 h-4 v-3.5 h4 Z" fill="#30d030" stroke="#0b8f0b" stroke-width="1"/>
<polygon points="520,6 526,6 523,9" fill="#000"/>
<circle cx="544" cy="7" r="7.8" fill="#1e64c8"/><circle cx="544" cy="7" r="5.2" fill="#f4f8ff"/><path d="M543.5 3 V7.3 H547" fill="none" stroke="#222" stroke-width="1"/>
<polygon points="559,6 565,6 562,9" fill="#000"/>
<rect x="575.5" y="-0.5" width="15" height="14" fill="#fff" stroke="#2a6cc0" stroke-width="1"/><rect x="576" y="0" width="14" height="2" fill="#4a8ad8"/><path d="M576 7.5 H590" stroke="#2a6cc0" stroke-width="1"/><path d="M577 5 L580 4 L583 5 L586 3.5 L589 4" fill="none" stroke="#b02010" stroke-width="1"/><path d="M577 11 L580 10 L582 11 L585 8.5 L589 11" fill="none" stroke="#1a9a1a" stroke-width="1"/>
<polygon points="598,6 604,6 601,9" fill="#000"/>
<rect x="609" y="0" width="1" height="17" fill="#a0a0a0"/><rect x="610" y="0" width="1" height="17" fill="#ffffff"/>
<rect x="613" y="1" width="3" height="1" fill="#a8a8a8"/>
<rect x="613" y="3" width="3" height="1" fill="#a8a8a8"/>
<rect x="613" y="5" width="3" height="1" fill="#a8a8a8"/>
<rect x="613" y="7" width="3" height="1" fill="#a8a8a8"/>
<rect x="613" y="9" width="3" height="1" fill="#a8a8a8"/>
<rect x="613" y="11" width="3" height="1" fill="#a8a8a8"/>
<rect x="613" y="13" width="3" height="1" fill="#a8a8a8"/>
<rect x="613" y="15" width="3" height="1" fill="#a8a8a8"/>
<rect x="620" y="0" width="24" height="17" fill="#f8f8f8"/>
<rect x="620" y="0" width="1" height="17" fill="#a0a0a0"/>
<path d="M627 -1 L627 11.5 L629.8 9 L632.3 14 L634.3 13 L631.8 8.3 L635.5 8.3 Z" fill="#555"/>
<path d="M652 7.5 H657.5 M661.5 7.5 H667 M659.5 0 V5.5 M659.5 9.5 V15" stroke="#444" stroke-width="1.1"/>
<rect x="676" y="0" width="1" height="17" fill="#a0a0a0"/><rect x="677" y="0" width="1" height="17" fill="#ffffff"/>
<rect x="693" y="1" width="1.5" height="13" fill="#444"/>
<rect x="716" y="7" width="12" height="1.5" fill="#444"/>
<path d="M744 14 L756 2" stroke="#444" stroke-width="1.2"/>
<path d="M770 13 L781 2 M774 15 L785 4 M772 9 L778 3 M776 11 L782 5" stroke="#444" stroke-width="1"/>
<text x="780.5" y="16" font-size="7" font-weight="bold" font-family='"Liberation Sans", Arial, sans-serif' fill="#444">E</text>
<path d="M799 0.5 H812 M799 3.5 H812 M799 7.5 H812 M799 11.5 H808" stroke="#444" stroke-width="1" stroke-dasharray="1 1"/>
<text x="809" y="16" font-size="7" font-weight="bold" font-family='"Liberation Sans", Arial, sans-serif' fill="#444">F</text>
<text x="829.5" y="12" font-size="11.5" font-weight="bold" font-family='"Liberation Sans", Arial, sans-serif' fill="#444">A</text>
<rect x="856.5" y="1.5" width="11" height="12" fill="none" stroke="#555" stroke-width="1" stroke-dasharray="1 1"/>
<text x="858" y="12" font-size="10.5" font-weight="bold" font-family='"Liberation Sans", Arial, sans-serif' fill="#444">T</text>
<path d="M883 5 L886 2 L889 5 L886 8 Z M891 10 L894 7 L897 10 L894 13 Z" fill="#444"/><path d="M885 7 L888 11 L893 4" fill="none" stroke="#444" stroke-width="1.2"/>
<polygon points="904,6 910,6 907,9" fill="#000"/>
<rect x="915" y="0" width="1" height="17" fill="#a0a0a0"/><rect x="916" y="0" width="1" height="17" fill="#ffffff"/>
<rect x="919" y="1" width="3" height="1" fill="#a8a8a8"/>
<rect x="919" y="3" width="3" height="1" fill="#a8a8a8"/>
<rect x="919" y="5" width="3" height="1" fill="#a8a8a8"/>
<rect x="919" y="7" width="3" height="1" fill="#a8a8a8"/>
<rect x="919" y="9" width="3" height="1" fill="#a8a8a8"/>
<rect x="919" y="11" width="3" height="1" fill="#a8a8a8"/>
<rect x="919" y="13" width="3" height="1" fill="#a8a8a8"/>
<rect x="919" y="15" width="3" height="1" fill="#a8a8a8"/>
<rect x="1065" y="0" width="26" height="17" fill="#f8f8f8"/>
<rect x="1065" y="0" width="1" height="17" fill="#a0a0a0"/>
<text x="930.5" y="11" font-size="9.7" fill-opacity="0.9" font-family='"Liberation Sans", Arial, sans-serif' fill="#333">M1</text>
<text x="959" y="11" font-size="9.7" fill-opacity="0.9" font-family='"Liberation Sans", Arial, sans-serif' fill="#333">M5</text>
<text x="985" y="11" font-size="9.7" fill-opacity="0.9" font-family='"Liberation Sans", Arial, sans-serif' fill="#333">M15</text>
<text x="1012.5" y="11" font-size="9.7" fill-opacity="0.9" font-family='"Liberation Sans", Arial, sans-serif' fill="#333">M30</text>
<text x="1044" y="11" font-size="9.7" fill-opacity="0.9" font-family='"Liberation Sans", Arial, sans-serif' fill="#333">H1</text>
<text x="1071" y="11" font-size="9.7" fill-opacity="0.9" font-family='"Liberation Sans", Arial, sans-serif' fill="#333">H4</text>
<text x="1100" y="11" font-size="9.7" fill-opacity="0.9" font-family='"Liberation Sans", Arial, sans-serif' fill="#333">D1</text>
<text x="1127" y="11" font-size="9.7" fill-opacity="0.9" font-family='"Liberation Sans", Arial, sans-serif' fill="#333">W1</text>
<text x="1154" y="11" font-size="9.7" fill-opacity="0.9" font-family='"Liberation Sans", Arial, sans-serif' fill="#333">MN</text>
<rect x="1176" y="0" width="1" height="17" fill="#a0a0a0"/><rect x="1177" y="0" width="1" height="17" fill="#ffffff"/>
<circle cx="1646.5" cy="4.5" r="3.6" fill="none" stroke="#2050d0" stroke-width="1.3"/><path d="M1644 7 L1639.5 11.5" stroke="#2050d0" stroke-width="2.2"/>
<path d="M1664 10 Q1664 5 1670 5 Q1676 5 1676 10 Q1676 14 1670 14 L1667 16 L1667.5 13.5 Q1664 13 1664 10 Z" fill="#e8ecf2" stroke="#b0b4bc" stroke-width="0.8"/>
<circle cx="1677.5" cy="4.5" r="8" fill="#dc3a1e"/>
<text x="1677.5" y="8.5" font-size="11" font-family='"Liberation Serif", serif' fill="#fff" text-anchor="middle">1</text>
</g>
<g>
<text x="1650" y="87" fill="#000" font-size="9.7" letter-spacing="0" font-family='"Liberation Sans", Arial, sans-serif' text-anchor="start" transform="translate(1650,87) scale(0.96,1.0) translate(-1650,-87)">31496.0</text>
<text x="1650" y="120" fill="#000" font-size="9.7" letter-spacing="0" font-family='"Liberation Sans", Arial, sans-serif' text-anchor="start" transform="translate(1650,120) scale(0.96,1.0) translate(-1650,-120)">31331.0</text>
<text x="1650" y="153" fill="#000" font-size="9.7" letter-spacing="0" font-family='"Liberation Sans", Arial, sans-serif' text-anchor="start" transform="translate(1650,153) scale(0.96,1.0) translate(-1650,-153)">31161.0</text>
<text x="1650" y="186" fill="#000" font-size="9.7" letter-spacing="0" font-family='"Liberation Sans", Arial, sans-serif' text-anchor="start" transform="translate(1650,186) scale(0.96,1.0) translate(-1650,-186)">30996.0</text>
<text x="1650" y="219" fill="#000" font-size="9.7" letter-spacing="0" font-family='"Liberation Sans", Arial, sans-serif' text-anchor="start" transform="translate(1650,219) scale(0.96,1.0) translate(-1650,-219)">30831.0</text>
<text x="1650" y="252" fill="#000" font-size="9.7" letter-spacing="0" font-family='"Liberation Sans", Arial, sans-serif' text-anchor="start" transform="translate(1650,252) scale(0.96,1.0) translate(-1650,-252)">30661.0</text>
<text x="1650" y="285" fill="#000" font-size="9.7" letter-spacing="0" font-family='"Liberation Sans", Arial, sans-serif' text-anchor="start" transform="translate(1650,285) scale(0.96,1.0) translate(-1650,-285)">30496.0</text>
<text x="1650" y="318" fill="#000" font-size="9.7" letter-spacing="0" font-family='"Liberation Sans", Arial, sans-serif' text-anchor="start" transform="translate(1650,318) scale(0.96,1.0) translate(-1650,-318)">30331.0</text>
<text x="1650" y="351" fill="#000" font-size="9.7" letter-spacing="0" font-family='"Liberation Sans", Arial, sans-serif' text-anchor="start" transform="translate(1650,351) scale(0.96,1.0) translate(-1650,-351)">30161.0</text>
<text x="1650" y="384" fill="#000" font-size="9.7" letter-spacing="0" font-family='"Liberation Sans", Arial, sans-serif' text-anchor="start" transform="translate(1650,384) scale(0.96,1.0) translate(-1650,-384)">29996.0</text>
<text x="1650" y="417" fill="#000" font-size="9.7" letter-spacing="0" font-family='"Liberation Sans", Arial, sans-serif' text-anchor="start" transform="translate(1650,417) scale(0.96,1.0) translate(-1650,-417)">29831.0</text>
<text x="1650" y="450" fill="#000" font-size="9.7" letter-spacing="0" font-family='"Liberation Sans", Arial, sans-serif' text-anchor="start" transform="translate(1650,450) scale(0.96,1.0) translate(-1650,-450)">29661.0</text>
<text x="1650" y="483" fill="#000" font-size="9.7" letter-spacing="0" font-family='"Liberation Sans", Arial, sans-serif' text-anchor="start" transform="translate(1650,483) scale(0.96,1.0) translate(-1650,-483)">29496.0</text>
<text x="1650" y="516" fill="#000" font-size="9.7" letter-spacing="0" font-family='"Liberation Sans", Arial, sans-serif' text-anchor="start" transform="translate(1650,516) scale(0.96,1.0) translate(-1650,-516)">29331.0</text>
<text x="1650" y="549" fill="#000" font-size="9.7" letter-spacing="0" font-family='"Liberation Sans", Arial, sans-serif' text-anchor="start" transform="translate(1650,549) scale(0.96,1.0) translate(-1650,-549)">29161.0</text>
<text x="1650" y="582" fill="#000" font-size="9.7" letter-spacing="0" font-family='"Liberation Sans", Arial, sans-serif' text-anchor="start" transform="translate(1650,582) scale(0.96,1.0) translate(-1650,-582)">28996.0</text>
<text x="1650" y="615" fill="#000" font-size="9.7" letter-spacing="0" font-family='"Liberation Sans", Arial, sans-serif' text-anchor="start" transform="translate(1650,615) scale(0.96,1.0) translate(-1650,-615)">28831.0</text>
<text x="1650" y="52" fill="#fff" font-size="9.7" letter-spacing="0" font-family='"Liberation Sans", Arial, sans-serif' text-anchor="start" transform="translate(1650,52) scale(0.96,1.0) translate(-1650,-52)">31665.9</text>
<text x="1650" y="81" fill="#fff" font-size="9.7" letter-spacing="0" font-family='"Liberation Sans", Arial, sans-serif' text-anchor="start" transform="translate(1650,81) scale(0.96,1.0) translate(-1650,-81)">31519.6</text>
<text x="1650" y="111" fill="#fff" font-size="9.7" letter-spacing="0" font-family='"Liberation Sans", Arial, sans-serif' text-anchor="start" transform="translate(1650,111) scale(0.96,1.0) translate(-1650,-111)">31368.3</text>
<text x="1650" y="129" fill="#fff" font-size="9.7" letter-spacing="0" font-family='"Liberation Sans", Arial, sans-serif' text-anchor="start" transform="translate(1650,129) scale(0.96,1.0) translate(-1650,-129)">31286.2</text>
<text x="1650" y="162" fill="#fff" font-size="9.7" letter-spacing="0" font-family='"Liberation Sans", Arial, sans-serif' text-anchor="start" transform="translate(1650,162) scale(0.96,1.0) translate(-1650,-162)">31112.5</text>
<text x="1650" y="191" fill="#fff" font-size="9.7" letter-spacing="0" font-family='"Liberation Sans", Arial, sans-serif' text-anchor="start" transform="translate(1650,191) scale(0.96,1.0) translate(-1650,-191)">30964.8</text>
<text x="1648" y="627" fill="#000" font-size="9.7" letter-spacing="0" font-family='"Liberation Sans", Arial, sans-serif' text-anchor="start" transform="translate(1648,627) scale(0.96,1.0) translate(-1648,-627)">373.92</text>
<text x="1648" y="723" fill="#000" font-size="9.7" letter-spacing="0" font-family='"Liberation Sans", Arial, sans-serif' text-anchor="start" transform="translate(1648,723) scale(0.96,1.0) translate(-1648,-723)">-17.05</text>
<text x="1648" y="725" fill="#000" font-size="9.7" letter-spacing="0" font-family='"Liberation Sans", Arial, sans-serif' text-anchor="start" transform="translate(1648,725) scale(0.96,1.0) translate(-1648,-725)">0.00</text>
<text x="1648" y="739" fill="#000" font-size="9.7" letter-spacing="0" font-family='"Liberation Sans", Arial, sans-serif' text-anchor="start" transform="translate(1648,739) scale(0.96,1.0) translate(-1648,-739)">100</text>
<text x="1647" y="754" fill="#000" font-size="9.7" letter-spacing="0" font-family='"Liberation Sans", Arial, sans-serif' text-anchor="start" transform="translate(1647,754) scale(0.96,1.0) translate(-1647,-754)">80</text>
<text x="1647" y="785" fill="#000" font-size="9.7" letter-spacing="0" font-family='"Liberation Sans", Arial, sans-serif' text-anchor="start" transform="translate(1647,785) scale(0.96,1.0) translate(-1647,-785)">50</text>
<text x="1647" y="822" fill="#000" font-size="9.7" letter-spacing="0" font-family='"Liberation Sans", Arial, sans-serif' text-anchor="start" transform="translate(1647,822) scale(0.96,1.0) translate(-1647,-822)">15</text>
<text x="1648" y="831" fill="#000" font-size="9.7" letter-spacing="0" font-family='"Liberation Sans", Arial, sans-serif' text-anchor="start" transform="translate(1648,831) scale(0.96,1.0) translate(-1648,-831)">0</text>
<text x="19.2" y="35" fill="#000" font-size="9.7" letter-spacing="0" font-family='"Liberation Sans", Arial, sans-serif' text-anchor="start" transform="translate(19.2,35) scale(0.96,1.0) translate(-19.2,-35)">JPN225-,H4</text>
<text x="75.6" y="35" fill="#000" font-size="9.7" letter-spacing="0" font-family='"Liberation Sans", Arial, sans-serif' text-anchor="start" transform="translate(75.6,35) scale(0.96,1.0) translate(-75.6,-35)">31295.7 31310.5 31276.2 31286.2</text>
<text x="8.6" y="629" fill="#000" font-size="9.7" letter-spacing="0" font-family='"Liberation Sans", Arial, sans-serif' text-anchor="start" transform="translate(8.6,629) scale(0.985,1.0) translate(-8.6,-629)">MACD(12,26,9) 167.74 172.10</text>
<text x="8.6" y="741" fill="#000" font-size="9.7" letter-spacing="0" font-family='"Liberation Sans", Arial, sans-serif' text-anchor="start" transform="translate(8.6,741) scale(0.985,1.0) translate(-8.6,-741)">RSI(14) 58.0417</text>
<text x="4" y="847" fill="#000" font-size="9.7" letter-spacing="0" font-family='"Liberation Sans", Arial, sans-serif' text-anchor="start">9 May 2023</text>
<text x="68" y="847" fill="#000" font-size="9.7" letter-spacing="0" font-family='"Liberation Sans", Arial, sans-serif' text-anchor="start">9 May 18:55</text>
<text x="132" y="847" fill="#000" font-size="9.7" letter-spacing="0" font-family='"Liberation Sans", Arial, sans-serif' text-anchor="start">10 May 10:55</text>
<text x="196" y="847" fill="#000" font-size="9.7" letter-spacing="0" font-family='"Liberation Sans", Arial, sans-serif' text-anchor="start">11 May 00:00</text>
<text x="260" y="847" fill="#000" font-size="9.7" letter-spacing="0" font-family='"Liberation Sans", Arial, sans-serif' text-anchor="start">11 May 18:55</text>
<text x="324" y="847" fill="#000" font-size="9.7" letter-spacing="0" font-family='"Liberation Sans", Arial, sans-serif' text-anchor="start">12 May 10:55</text>
<text x="388" y="847" fill="#000" font-size="9.7" letter-spacing="0" font-family='"Liberation Sans", Arial, sans-serif' text-anchor="start">15 May 00:00</text>
<text x="452" y="847" fill="#000" font-size="9.7" letter-spacing="0" font-family='"Liberation Sans", Arial, sans-serif' text-anchor="start">15 May 18:55</text>
<text x="516" y="847" fill="#000" font-size="9.7" letter-spacing="0" font-family='"Liberation Sans", Arial, sans-serif' text-anchor="start">16 May 10:55</text>
<text x="580" y="847" fill="#000" font-size="9.7" letter-spacing="0" font-family='"Liberation Sans", Arial, sans-serif' text-anchor="start">17 May 00:00</text>
<text x="644" y="847" fill="#000" font-size="9.7" letter-spacing="0" font-family='"Liberation Sans", Arial, sans-serif' text-anchor="start">17 May 18:55</text>
<text x="708" y="847" fill="#000" font-size="9.7" letter-spacing="0" font-family='"Liberation Sans", Arial, sans-serif' text-anchor="start">18 May 10:55</text>
<text x="772" y="847" fill="#000" font-size="9.7" letter-spacing="0" font-family='"Liberation Sans", Arial, sans-serif' text-anchor="start">19 May 00:00</text>
<text x="836" y="847" fill="#000" font-size="9.7" letter-spacing="0" font-family='"Liberation Sans", Arial, sans-serif' text-anchor="start">19 May 18:55</text>
<text x="900" y="847" fill="#000" font-size="9.7" letter-spacing="0" font-family='"Liberation Sans", Arial, sans-serif' text-anchor="start">22 May 10:55</text>
<text x="964" y="847" fill="#000" font-size="9.7" letter-spacing="0" font-family='"Liberation Sans", Arial, sans-serif' text-anchor="start">23 May 00:00</text>
<text x="1028" y="847" fill="#000" font-size="9.7" letter-spacing="0" font-family='"Liberation Sans", Arial, sans-serif' text-anchor="start">23 May 18:55</text>
<text x="1092" y="847" fill="#000" font-size="9.7" letter-spacing="0" font-family='"Liberation Sans", Arial, sans-serif' text-anchor="start">24 May 10:55</text>
<text x="1156" y="847" fill="#000" font-size="9.7" letter-spacing="0" font-family='"Liberation Sans", Arial, sans-serif' text-anchor="start">25 May 00:00</text>
<text x="1220" y="847" fill="#000" font-size="9.7" letter-spacing="0" font-family='"Liberation Sans", Arial, sans-serif' text-anchor="start">25 May 18:55</text>
<text x="1284" y="847" fill="#000" font-size="9.7" letter-spacing="0" font-family='"Liberation Sans", Arial, sans-serif' text-anchor="start">26 May 10:55</text>
<text x="1348" y="847" fill="#000" font-size="9.7" letter-spacing="0" font-family='"Liberation Sans", Arial, sans-serif' text-anchor="start">29 May 00:00</text>
</g>
</svg>
</body></html>
